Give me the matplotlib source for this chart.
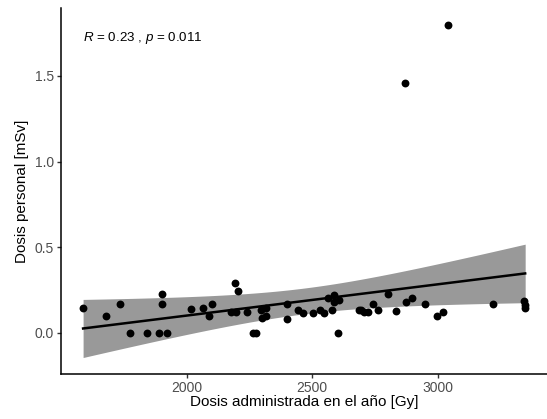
import numpy as np
import matplotlib
matplotlib.use("Agg")
import matplotlib.pyplot as plt

plt.rcParams['font.family'] = ['Liberation Sans', 'DejaVu Sans']
plt.rcParams['mathtext.fontset'] = 'custom'
plt.rcParams['mathtext.it'] = 'Liberation Sans:italic'
plt.rcParams['mathtext.rm'] = 'Liberation Sans'

# dose administered in the year [Gy]
dosis_admin = [1588, 1678, 1734, 1775, 1844, 1890, 1921, 1902, 1902, 2019,
               2065, 2091, 2103, 2177, 2191, 2204, 2197, 2241, 2265, 2275,
               2297, 2318, 2300, 2318, 2400, 2401, 2445, 2462, 2503, 2532,
               2548, 2564, 2578, 2587, 2587, 2607, 2601, 2687, 2695, 2707,
               2724, 2742, 2763, 2803, 2835, 2868, 2875, 2899, 2949, 2998,
               3022, 3040, 3220, 3343, 3348, 3348]
# personal dose [mSv]
dosis_personal = [0.145, 0.097, 0.167, 0.0, 0.0, 0.0, 0.0, 0.228, 0.167, 0.138,
                  0.145, 0.095, 0.167, 0.12, 0.289, 0.246, 0.12, 0.12, 0.0, 0.0,
                  0.135, 0.145, 0.085, 0.097, 0.17, 0.077, 0.135, 0.116, 0.116, 0.135,
                  0.116, 0.20, 0.135, 0.22, 0.18, 0.19, 0.0, 0.13, 0.13, 0.12,
                  0.12, 0.17, 0.135, 0.226, 0.126, 1.46, 0.18, 0.20, 0.17, 0.097,
                  0.118, 1.80, 0.165, 0.185, 0.163, 0.144]
x_ticks = [2000, 2500, 3000]
y_ticks = [0.0, 0.5, 1.0, 1.5]
label_text = r'$\it{R}$ = 0.23 , $\it{p}$ = 0.011'

x = np.array(dosis_admin, dtype=float)
y = np.array(dosis_personal, dtype=float)

# linear fit + 95% confidence band
n = len(x)
b, a = np.polyfit(x, y, 1)
xs = np.linspace(x.min(), x.max(), 100)
ys = a + b * xs
resid = y - (a + b * x)
s = np.sqrt(np.sum(resid ** 2) / (n - 2))
sxx = np.sum((x - x.mean()) ** 2)
se = s * np.sqrt(1.0 / n + (xs - x.mean()) ** 2 / sxx)
t_val = 2.005
lo = ys - t_val * se
hi = ys + t_val * se

fig = plt.figure(figsize=(5.47, 4.19), dpi=100)
ax = fig.add_axes([0.1115, 0.107, 0.889, 0.874])

ax.fill_between(xs, lo, hi, color='#999999', lw=0, zorder=1)
ax.plot(xs, ys, color='black', lw=1.8, zorder=2)
ax.scatter(x, y, s=32, color='black', zorder=3, linewidths=0)

ax.text(1588, 1.72, label_text, fontsize=9.6, va='center', ha='left')

# ggplot-like expansion
xr = x.max() - x.min()
ax.set_xlim(x.min() - 0.05 * xr, x.max() + 0.05 * xr)
ymin = min(y.min(), lo.min())
ymax = max(y.max(), hi.max())
yr = ymax - ymin
ax.set_ylim(ymin - 0.05 * yr, ymax + 0.05 * yr)

ax.set_xticks(x_ticks)
ax.set_yticks(y_ticks)
ax.set_yticklabels(['%.1f' % v for v in y_ticks])
ax.tick_params(labelsize=10, labelcolor='#4D4D4D', color='#333333',
               length=3, width=1, pad=2)
ax.set_xlabel('Dosis administrada en el año [Gy]', fontsize=11, labelpad=0)
ax.set_ylabel('Dosis personal [mSv]', fontsize=11, labelpad=4)

for side in ['top', 'right']:
    ax.spines[side].set_visible(False)
for side in ['left', 'bottom']:
    ax.spines[side].set_linewidth(1.1)

fig.savefig('out.png', dpi=100)
